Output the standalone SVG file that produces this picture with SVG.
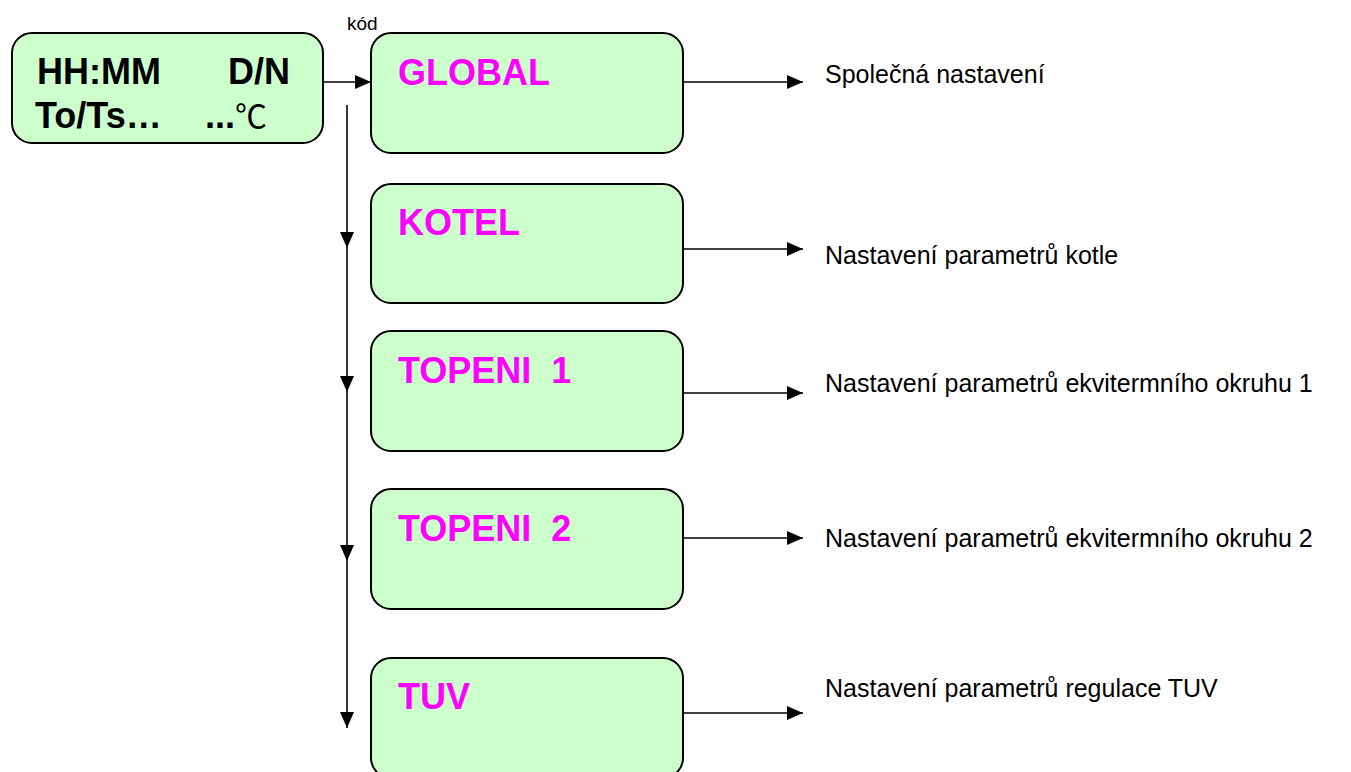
<svg xmlns="http://www.w3.org/2000/svg" width="1351" height="772" viewBox="0 0 1351 772">
  <style>
    .box { fill: #CCFFCC; stroke: #000; stroke-width: 2; }
    .title { font-family: "Liberation Sans", Arial, sans-serif; font-weight: bold; font-size: 36px; fill: #FF00FF; white-space: pre; }
    .disp { font-family: "Liberation Sans", Arial, sans-serif; font-weight: bold; font-size: 36px; fill: #000; white-space: pre; }
    .label { font-family: "Liberation Sans", Arial, sans-serif; font-size: 25px; fill: #000; }
    .small { font-family: "Liberation Sans", Arial, sans-serif; font-size: 19px; fill: #000; }
    .wire { fill: none; stroke: #000; stroke-width: 1.6; marker-end: url(#ah); }
  </style>
  <defs>
    <marker id="ah" viewBox="0 0 16 14" refX="16" refY="7" markerWidth="16" markerHeight="14" markerUnits="userSpaceOnUse" orient="auto">
      <path d="M0,0 L16,7 L0,14 Z" fill="#000"/>
    </marker>
  </defs>

  <!-- connectors -->
  <g id="connectors">
    <path class="wire" d="M323,82 H371"/>
    <path class="wire" d="M347,105 V248"/>
    <path class="wire" d="M347,248 V392"/>
    <path class="wire" d="M347,392 V561"/>
    <path class="wire" d="M347,561 V728"/>
    <path class="wire" d="M683,82 H803"/>
    <path class="wire" d="M683,249 H803"/>
    <path class="wire" d="M683,393 H803"/>
    <path class="wire" d="M683,538 H803"/>
    <path class="wire" d="M683,713 H803"/>
  </g>

  <!-- main display -->
  <g id="display">
    <rect class="box" x="12" y="33" width="311" height="110" rx="20"/>
    <text class="disp" x="37" y="84">HH:MM</text>
    <text class="disp" x="228" y="84">D/N</text>
    <text class="disp" x="35" y="128">To/Ts…</text>
    <text class="disp" x="205" y="128">...<tspan font-weight="normal" font-family="'Noto Sans CJK JP', sans-serif" font-size="32">℃</tspan></text>
  </g>

  <text class="small" x="347" y="30">kód</text>

  <g id="global">
    <rect class="box" x="371" y="33" width="312" height="120" rx="20"/>
    <text class="title" x="398" y="85">GLOBAL</text>
  </g>
  <g id="kotel">
    <rect class="box" x="371" y="184" width="312" height="119" rx="20"/>
    <text class="title" x="398" y="235">KOTEL</text>
  </g>
  <g id="topeni1">
    <rect class="box" x="371" y="331" width="312" height="120" rx="20"/>
    <text class="title" x="398" y="383">TOPENI  1</text>
  </g>
  <g id="topeni2">
    <rect class="box" x="371" y="489" width="312" height="120" rx="20"/>
    <text class="title" x="398" y="541">TOPENI  2</text>
  </g>
  <g id="tuv">
    <rect class="box" x="371" y="658" width="312" height="120" rx="20"/>
    <text class="title" x="398" y="709">TUV</text>
  </g>

  <!-- descriptions -->
  <g id="labels">
    <text class="label" x="825" y="83">Společná nastavení</text>
    <text class="label" x="825" y="264">Nastavení parametrů kotle</text>
    <text class="label" x="825" y="392">Nastavení parametrů ekvitermního okruhu 1</text>
    <text class="label" x="825" y="547">Nastavení parametrů ekvitermního okruhu 2</text>
    <text class="label" x="825" y="697">Nastavení parametrů regulace TUV</text>
  </g>
</svg>
